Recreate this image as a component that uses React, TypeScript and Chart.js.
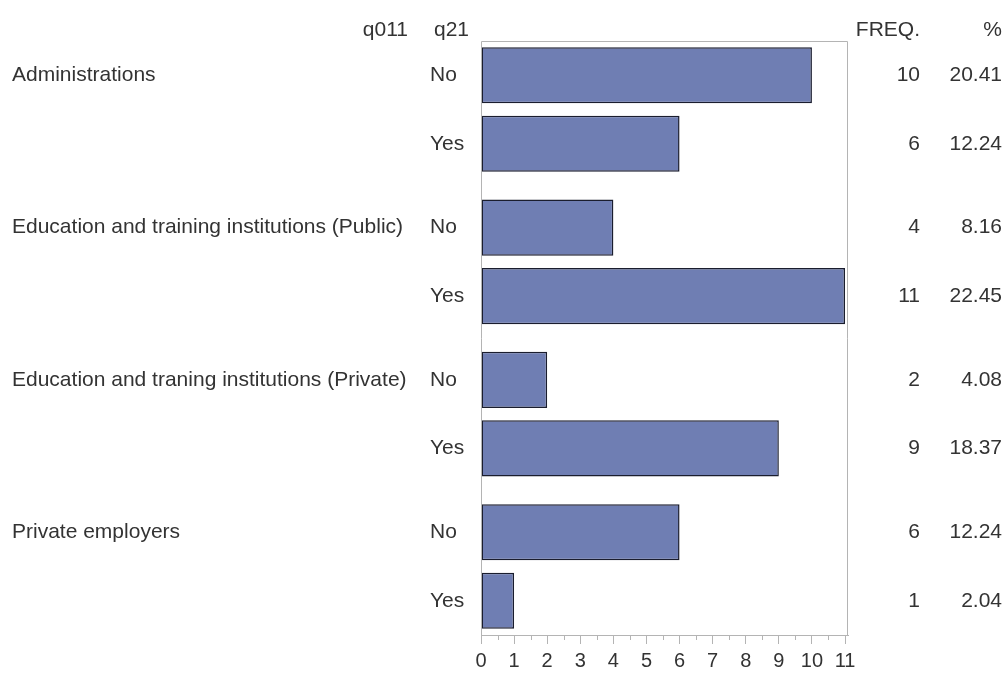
import React, { useEffect, useRef } from "react";
import { Chart, registerables } from "chart.js";

Chart.register(...registerables);

// ---- data ----
const groupLabels = [
  "Administrations",
  "Education and training institutions (Public)",
  "Education and traning institutions (Private)",
  "Private employers",
];
const answerLabels = ["No", "Yes"];
const freqValues = [10, 6, 4, 11, 2, 9, 6, 1];
const pctLabels = ["20.41", "12.24", "8.16", "22.45", "4.08", "18.37", "12.24", "2.04"];
const xTickMax = 11;
const headerGroup = "q011";
const headerAnswer = "q21";
const headerFreq = "FREQ.";
const headerPct = "%";

// ---- layout constants ----
const W = 1008;
const H = 673;
const GROUP_GAP = 0.224; // extra spacing between groups, in bar-pitch units
const FONT = '"Liberation Sans", Arial, sans-serif';
const TEXT = "#333333";
const FRAME = "#b4b4b4";

const rows = freqValues.map((v, i) => {
  const g = Math.floor(i / answerLabels.length);
  const s = i % answerLabels.length;
  return { x: v, y: g * (answerLabels.length + GROUP_GAP) + s, g, s };
});
const yMax = rows[rows.length - 1].y + 0.5;

export default function App() {
  const ref = useRef<HTMLCanvasElement | null>(null);

  useEffect(() => {
    if (!ref.current) return;

    const tablePlugin = {
      id: "tablePlugin",
      afterDraw(chart: any) {
        const ctx = chart.ctx;
        const area = chart.chartArea;
        const ys = chart.scales.y;
        const xs = chart.scales.x;
        ctx.save();
        // frame
        ctx.strokeStyle = FRAME;
        ctx.lineWidth = 1;
        ctx.beginPath();
        ctx.moveTo(area.left + 0.5, area.bottom);
        ctx.lineTo(area.left + 0.5, area.top + 0.5);
        ctx.lineTo(area.right - 0.5, area.top + 0.5);
        ctx.lineTo(area.right - 0.5, area.bottom);
        ctx.stroke();
        // minor ticks
        ctx.beginPath();
        for (let v = 0.5; v < xTickMax; v += 1) {
          const px = Math.round(xs.getPixelForValue(v)) + 0.5;
          ctx.moveTo(px, area.bottom);
          ctx.lineTo(px, area.bottom + 5);
        }
        ctx.stroke();

        ctx.fillStyle = TEXT;
        ctx.font = `21px ${FONT}`;
        ctx.textBaseline = "middle";
        // headers
        const hy = 30;
        ctx.textAlign = "right";
        ctx.fillText(headerGroup, 408, hy);
        ctx.textAlign = "left";
        ctx.fillText(headerAnswer, 434, hy);
        ctx.textAlign = "right";
        ctx.fillText(headerFreq, 920, hy);
        ctx.fillText(headerPct, 1002, hy);

        rows.forEach((r, i) => {
          const py = ys.getPixelForValue(r.y);
          if (r.s === 0) {
            ctx.textAlign = "left";
            ctx.fillText(groupLabels[r.g], 12, py);
          }
          ctx.textAlign = "left";
          ctx.fillText(answerLabels[r.s], 430, py);
          ctx.textAlign = "right";
          ctx.fillText(String(freqValues[i]), 920, py);
          ctx.fillText(pctLabels[i], 1002, py);
        });
        ctx.restore();
      },
    };

    const chart = new Chart(ref.current, {
      type: "bar",
      data: {
        datasets: [
          {
            data: rows.map((r) => ({ x: r.x, y: r.y })),
            backgroundColor: "#6f7eb3",
            borderColor: "#1a1d2e",
            borderWidth: 1.5,
            borderSkipped: false,
            barPercentage: 0.82,
            categoryPercentage: 1,
          },
        ],
      },
      options: {
        indexAxis: "y",
        responsive: false,
        animation: false,
        devicePixelRatio: 1,
        layout: { padding: { left: 481, right: W - 848, top: 41, bottom: 0 } },
        plugins: { legend: { display: false }, tooltip: { enabled: false } },
        scales: {
          y: {
            type: "linear",
            display: false,
            reverse: true,
            offset: false,
            min: -0.5,
            max: yMax,
            afterBuildTicks: (s: any) => {
              s.ticks = rows.map((r) => ({ value: r.y }));
            },
          },
          x: {
            type: "linear",
            position: "bottom",
            offset: false,
            min: 0,
            max: 11.09,
            afterFit: (s: any) => {
              s.height = H - 635;
            },
            grid: {
              display: true,
              drawOnChartArea: false,
              drawTicks: true,
              tickLength: 9,
              color: FRAME,
            },
            border: { display: true, color: FRAME },
            ticks: {
              stepSize: 1,
              includeBounds: false,
              autoSkip: false,
              maxRotation: 0,
              padding: 5,
              color: TEXT,
              font: { family: FONT, size: 20 },
            },
          },
        },
      },
      plugins: [tablePlugin],
    } as any);

    return () => chart.destroy();
  }, []);

  return (
    <div style={{ position: "absolute", left: 0, top: 0, width: W, height: H, background: "#fff" }}>
      <canvas ref={ref} width={W} height={H} style={{ width: W, height: H, display: "block" }} />
    </div>
  );
}
